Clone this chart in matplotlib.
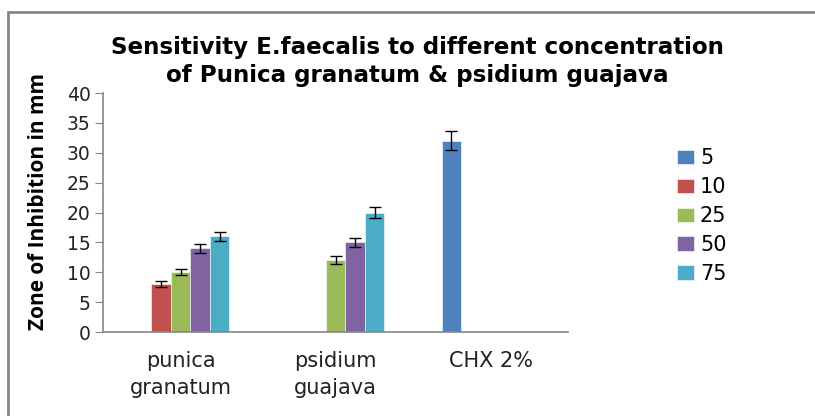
import matplotlib.pyplot as plt
import numpy as np
from matplotlib.patches import Rectangle

# Data
groups = ['punica\ngranatum', 'psidium\nguajava', 'CHX 2%']
series = ['5', '10', '25', '50', '75']
conc_5 = [0, 0, 32]
conc_10 = [8, 0, 0]
conc_25 = [10, 12, 0]
conc_50 = [14, 15, 0]
conc_75 = [16, 20, 0]
err_5 = [0, 0, 1.6]
err_10 = [0.5, 0, 0]
err_25 = [0.5, 0.7, 0]
err_50 = [0.8, 0.8, 0]
err_75 = [0.8, 0.9, 0]

values = [conc_5, conc_10, conc_25, conc_50, conc_75]
errors = [err_5, err_10, err_25, err_50, err_75]
colors = ['#4F81BD', '#C0504D', '#9BBB59', '#8064A2', '#4BACC6']

plt.rcParams['font.family'] = ['DejaVu Sans']

fig = plt.figure(figsize=(8.15, 4.16), dpi=100)
ax = fig.add_axes([0.1264, 0.2019, 0.5706, 0.5745])

x = np.arange(len(groups))
w = 0.126
for i, (name, vals, errs, c) in enumerate(zip(series, values, errors, colors)):
    pos = x + (i - 2) * w
    ax.bar(pos, vals, w, color=c, edgecolor='white', linewidth=0.4, label=name)
    for p, v, e in zip(pos, vals, errs):
        if v > 0:
            ax.errorbar(p, v, yerr=e, fmt='none', ecolor='black',
                        elinewidth=1, capsize=4.5, capthick=1)

ax.set_xlim(-0.5, 2.5)
ax.set_ylim(0, 40)
ax.set_yticks(range(0, 41, 5))
ax.set_xticks(x)
ax.set_xticklabels(groups, fontsize=15, color='#222222', linespacing=1.4)
ax.tick_params(axis='y', labelsize=13.5, labelcolor='#222222', direction='out',
               length=6, color='#868686', pad=3)
ax.tick_params(axis='x', length=0, pad=14)
for s in ['top', 'right']:
    ax.spines[s].set_visible(False)
for s in ['left', 'bottom']:
    ax.spines[s].set_color('#868686')
    ax.spines[s].set_linewidth(1.2)

ax.set_ylabel('Zone of Inhibition in mm', fontsize=15, fontweight='bold',
              family='Open Sans', labelpad=0)
ax.yaxis.set_label_coords(-0.116, 0.548)

fig.text(0.512, 0.853, 'Sensitivity E.faecalis to different concentration\n'
         'of Punica granatum & psidium guajava', ha='center', va='center',
         fontsize=16.6, fontweight='bold', linespacing=1.28)

ax.legend(loc='center left', bbox_to_anchor=(1.194, 0.485), frameon=False,
          fontsize=15, handlelength=0.8, handleheight=0.7, labelspacing=0.43,
          handletextpad=0.3)

fig.patches.append(Rectangle((0.0098, -0.1), 1.1, 1.0712, transform=fig.transFigure,
                             fill=False, edgecolor='#868686', linewidth=2))

plt.savefig('out.png', dpi=100)
